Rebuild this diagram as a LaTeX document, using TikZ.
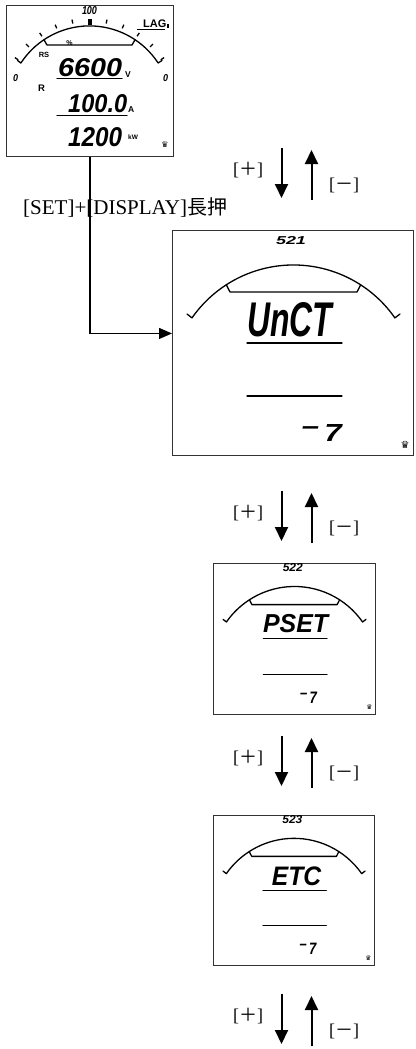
\documentclass[tikz,border=0pt]{standalone}
\usepackage{fontspec}
\usepackage{graphicx}
\setmainfont{Liberation Serif}
\newfontfamily\cjk{Noto Sans CJK JP}
\newfontfamily\lcdsans{Liberation Sans}
\newfontfamily\symf{DejaVu Sans}
\usetikzlibrary{arrows.meta}
\newcommand\seg[3]{\resizebox{#1}{#2}{\lcdsans\bfseries\itshape #3}}
\newcommand\lcdbase[1]{%
  \node[frame, minimum width=241pt, minimum height=225pt] (#1) at (0,0) {};
  \draw[lcdline] (228,-84) -- (222.9,-87.9) arc[start angle=34.9,end angle=145.1,radius=123.7] -- (15,-84);
  \draw[lcdline] (54.3,-54.8) -- (58,-62) -- (185,-62) -- (188.7,-54.8);
  \draw[lcdline] (75,-113) -- (170,-113);
  \draw[lcdline] (75,-166) -- (170,-166);
  \node[inner sep=0] (#1-key) at (233,-215) {\symf\fontsize{10}{10}\selectfont ♛};
}
\newcommand\pmpair[2]{%
  \coordinate (d#1a) at (281.5,-#2);
  \coordinate (d#1b) at (281.5,-#2-50);
  \coordinate (u#1a) at (311.5,-#2-52);
  \coordinate (u#1b) at (311.5,-#2-2);
  \draw[bigarrow] (d#1a) -- (d#1b);
  \draw[bigarrow] (u#1a) -- (u#1b);
  \node[lbl] (plus#1) at (248,-#2-22) {[{\cjk ＋}]};
  \node[lbl] (minus#1) at (344,-#2-37) {[{\cjk －}]};
}
\begin{document}
\begin{tikzpicture}[x=1pt,y=1pt,
  frame/.style={draw=black!80, line width=0.9pt, inner sep=0pt, anchor=north west},
  lcdline/.style={line width=1.3pt, line cap=round, line join=round},
  conn/.style={line width=1.2pt, -{Triangle[length=13pt,width=11pt]}},
  bigarrow/.style={line width=2pt, -{Triangle[length=14pt,width=13pt]}},
  lbl/.style={inner sep=0pt, font=\fontsize{18}{18}\selectfont},
  unit/.style={inner sep=0pt, font=\lcdsans\bfseries},
  segn/.style={inner sep=0pt}]
\useasboundingbox (0,0) rectangle (415,-1049);

% ---------- top meter ----------
\node[frame, minimum width=167pt, minimum height=151pt] (top) at (6,-5) {};
\draw[lcdline] (17.5,-60.5) -- (20.9,-63) arc[start angle=146.8,end angle=33.2,radius=82] -- (162,-60.5);
\foreach \a in {146,134.8,123.6,112.4,101.2,78.8,67.6,56.4,45.2,34}
  \draw[line width=1.3pt] ([shift={(\a:86)}]89.5,-107.9) -- ([shift={(\a:90)}]89.5,-107.9);
\fill (87.5,-19.5) rectangle (91.5,-25);
\draw[lcdline] (44,-39.8) -- (47,-45) -- (132,-45) -- (135,-39.8);
\node[segn] (t100) at (89.5,-11) {\seg{15pt}{8pt}{100}};
\node[unit, anchor=south west, font=\lcdsans\bfseries\fontsize{11}{11}\selectfont] (lag) at (143,-28) {LAG};
\draw[line width=1pt] (137,-29.8) -- (165,-29.8);
\fill (167,-24) rectangle (168.6,-28.5);
\node[unit, font=\lcdsans\bfseries\fontsize{7}{7}\selectfont] (pct) at (69.5,-43.3) {\%};
\node[unit, font=\lcdsans\bfseries\fontsize{7.5}{7.5}\selectfont] (rs) at (44,-54.5) {RS};
\node[unit, font=\lcdsans\bfseries\fontsize{9.5}{9.5}\selectfont] (rr) at (41.5,-88.5) {R};
\node[segn] (zl) at (15.5,-78.5) {\seg{5pt}{7pt}{0}};
\node[segn] (zr) at (165.5,-78.5) {\seg{5pt}{7pt}{0}};
\node[segn, anchor=south west] (v6600) at (58,-77) {\seg{64pt}{18pt}{6600}};
\draw[lcdline] (57,-78.5) -- (122,-78.5);
\node[unit, anchor=south west, font=\lcdsans\bfseries\fontsize{8.5}{8.5}\selectfont] (uv) at (125,-78) {V};
\node[segn, anchor=south west] (a1000) at (68,-113) {\seg{59pt}{18pt}{100.0}};
\draw[lcdline] (57,-115.5) -- (127,-115.5);
\node[unit, anchor=south west, font=\lcdsans\bfseries\fontsize{8.5}{8.5}\selectfont] (ua) at (128,-113) {A};
\node[segn, anchor=south west] (k1200) at (68,-147) {\seg{54pt}{19pt}{1200}};
\node[unit, anchor=south west, font=\lcdsans\bfseries\fontsize{6.5}{6.5}\selectfont] (ukw) at (128,-140) {kW};
\node[inner sep=0pt] (topkey) at (165,-145) {\symf\fontsize{8}{8}\selectfont ♛};

% ---------- big screen 521 ----------
\begin{scope}[shift={(172,-230)}]
  \lcdbase{big}
  \node[segn] (bnum) at (119,-11) {\seg{30pt}{8pt}{521}};
  \node[segn, anchor=south west] (bword) at (75,-107) {\seg{85pt}{34pt}{UnCT}};
  \node[segn, anchor=south east] (bsel) at (170,-212) {\seg{40pt}{17pt}{\raisebox{0.3em}{–}\,7}};
\end{scope}

% ---------- screen 522 ----------
\begin{scope}[shift={(213,-563)}, scale=0.671, transform shape]
  \lcdbase{s2}
  \node[segn] (s2num) at (119,-7) {\seg{30pt}{12pt}{522}};
  \node[segn, anchor=south west] (s2word) at (74.5,-104) {\seg{97pt}{27pt}{PSET}};
  \node[segn, anchor=south east] (s2sel) at (155,-209) {\seg{25pt}{17pt}{\raisebox{0.3em}{–}\,7}};
\end{scope}

% ---------- screen 523 ----------
\begin{scope}[shift={(213,-815)}, scale=0.667, transform shape]
  \lcdbase{s3}
  \node[segn] (s3num) at (119,-7) {\seg{30pt}{12pt}{523}};
  \node[segn, anchor=south west] (s3word) at (88,-107) {\seg{74pt}{28pt}{ETC}};
  \node[segn, anchor=south east] (s3sel) at (155,-209) {\seg{25pt}{17pt}{\raisebox{0.3em}{–}\,7}};
\end{scope}

% ---------- connector ----------
\draw[conn] (top.south) |- ([yshift=9.5pt]big.west);
\node[inner sep=0pt, anchor=base west] (setlbl) at (23,-214)
  {\fontsize{21}{21}\selectfont [SET]+[DISPLAY]{\cjk\fontsize{20}{20}\selectfont 長押}};

% ---------- +/- arrow pairs ----------
\pmpair{1}{148}
\pmpair{2}{491}
\pmpair{3}{736}
\pmpair{4}{994}
\end{tikzpicture}
\end{document}
